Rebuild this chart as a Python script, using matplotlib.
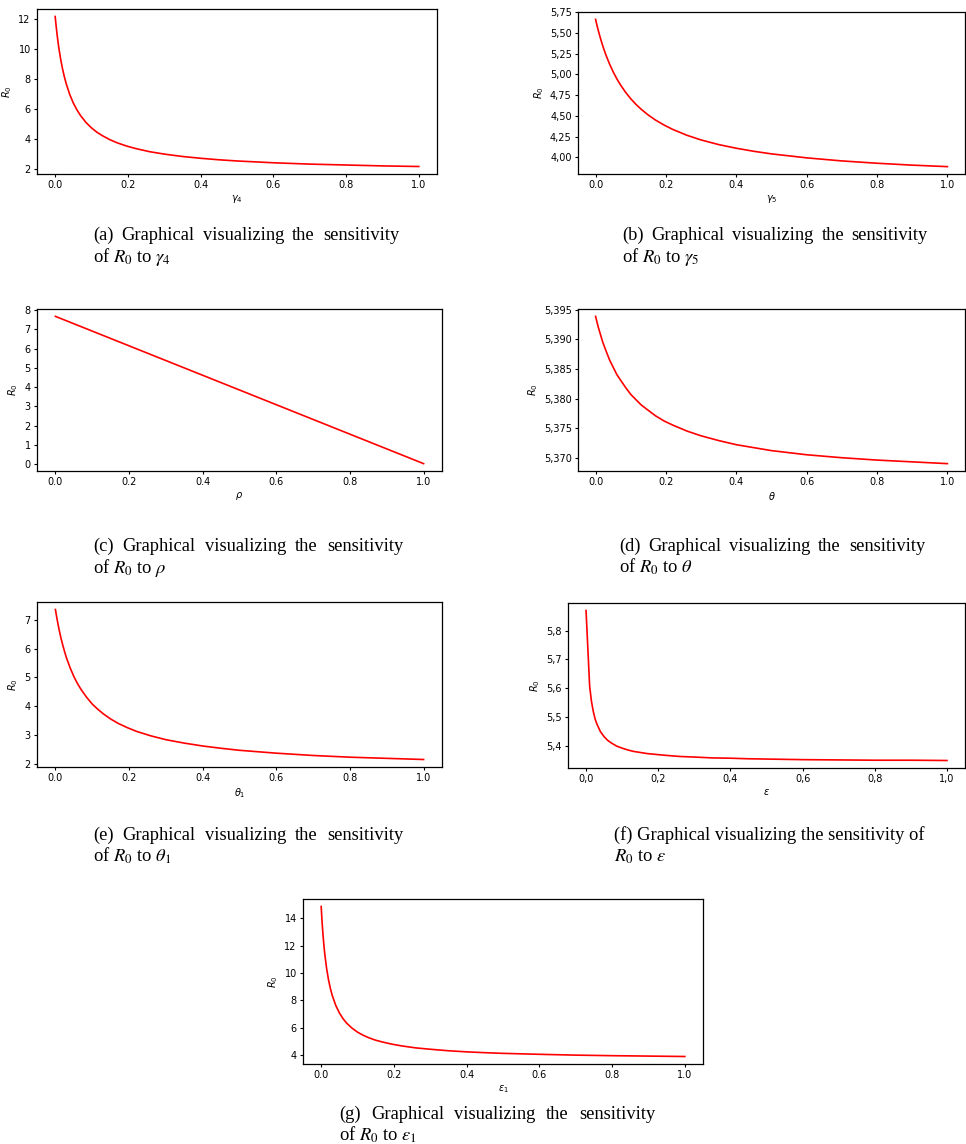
import numpy as np
import matplotlib
matplotlib.use("Agg")
import matplotlib.pyplot as plt
from matplotlib.ticker import FuncFormatter, MultipleLocator

# sampled parameter values (shared by most curved panels)
x_grid = [0.0, 0.0025, 0.005, 0.0075, 0.01, 0.015, 0.02, 0.025, 0.03, 0.04,
          0.05, 0.06, 0.07, 0.085, 0.1, 0.115, 0.13, 0.15, 0.17, 0.195, 0.22,
          0.26, 0.3, 0.35, 0.4, 0.45, 0.5, 0.6, 0.7, 0.8, 0.9, 1.0]

# R0
r0_gamma4 = [12.20, 11.59, 11.04, 10.55, 10.11, 9.35, 8.72, 8.19, 7.73, 6.98,
             6.40, 5.94, 5.56, 5.10, 4.74, 4.45, 4.22, 3.96, 3.75, 3.54, 3.37,
             3.15, 2.99, 2.83, 2.71, 2.61, 2.53, 2.41, 2.32, 2.26, 2.20, 2.16]
r0_gamma5 = [5.665, 5.619, 5.575, 5.534, 5.494, 5.419, 5.350, 5.287, 5.228,
             5.123, 5.031, 4.950, 4.879, 4.786, 4.706, 4.638, 4.578, 4.509,
             4.450, 4.388, 4.335, 4.265, 4.209, 4.153, 4.109, 4.072, 4.041,
             3.993, 3.956, 3.928, 3.905, 3.887]
x_rho = [0.0, 0.2, 0.4, 0.6, 0.8, 1.0]
r0_rho = [7.68, 6.15, 4.62, 3.09, 1.56, 0.03]
r0_theta = [5.3939, 5.3933, 5.3927, 5.3921, 5.3916, 5.3906, 5.3896, 5.3888,
            5.3880, 5.3865, 5.3853, 5.3841, 5.3832, 5.3819, 5.3807, 5.3798,
            5.3789, 5.3780, 5.3771, 5.3762, 5.3755, 5.3745, 5.3737, 5.3729,
            5.3722, 5.3717, 5.3712, 5.3705, 5.3700, 5.3696, 5.3693, 5.3690]
r0_theta1 = [7.36, 7.17, 6.99, 6.82, 6.66, 6.37, 6.12, 5.89, 5.68, 5.33,
             5.03, 4.78, 4.57, 4.30, 4.07, 3.89, 3.73, 3.55, 3.40, 3.25, 3.12,
             2.96, 2.83, 2.71, 2.61, 2.53, 2.46, 2.36, 2.28, 2.22, 2.18, 2.14]
# epsilon panel is coarser near zero (visible kink in the original)
x_eps = [0.0, 0.01, 0.015, 0.02, 0.025, 0.03, 0.04, 0.05, 0.06, 0.07, 0.085,
         0.1, 0.115, 0.13, 0.15, 0.17, 0.195, 0.22, 0.26, 0.3, 0.35, 0.4,
         0.45, 0.5, 0.6, 0.7, 0.8, 0.9, 1.0]
r0_eps = [5.870, 5.606, 5.554, 5.519, 5.493, 5.475, 5.448, 5.431, 5.418,
          5.409, 5.398, 5.391, 5.385, 5.380, 5.376, 5.372, 5.369, 5.366,
          5.362, 5.360, 5.357, 5.356, 5.354, 5.353, 5.351, 5.350, 5.349,
          5.349, 5.348]
r0_eps1 = [14.87, 13.73, 12.80, 12.02, 11.37, 10.33, 9.53, 8.91, 8.40, 7.64,
           7.09, 6.67, 6.34, 5.97, 5.68, 5.46, 5.28, 5.09, 4.95, 4.80, 4.68,
           4.53, 4.43, 4.32, 4.24, 4.18, 4.13, 4.06, 4.00, 3.96, 3.93, 3.90]

W, H = 966, 1144
fig = plt.figure(figsize=(W / 100, H / 100), dpi=100)
renderer = fig.canvas.get_renderer()

CAP_KW = dict(fontsize=13.3, family="Liberation Serif", math_fontfamily="stix",
              va="baseline", ha="left")


def px_axes(left, top, right, bottom):
    #  pixel box -> figure fraction
    return fig.add_axes([left / W, 1 - bottom / H, (right - left) / W,
                         (bottom - top) / H])


def comma_fmt(nd):
    return FuncFormatter(lambda v, p: ("%.*f" % (nd, v)).replace(".", ","))


def panel(box, xs, ys, xlab):
    ax = px_axes(*box)
    ax.plot(xs, ys, color="red", lw=1.2)
    ax.set_xlabel(xlab, fontsize=7, labelpad=2)
    ax.set_ylabel(r"$R_0$", fontsize=7, labelpad=3)
    ax.tick_params(labelsize=7, length=2.5, width=0.8, pad=2)
    for s in ax.spines.values():
        s.set_linewidth(0.9)
    ax.xaxis.set_major_locator(MultipleLocator(0.2))
    return ax


def justified(x0, x1, y, line):
    #  spread the words of a line over [x0, x1] like LaTeX does
    words = line.split(" ")
    ts = [fig.text(0, 1 - y / H, w, **CAP_KW) for w in words]
    widths = [t.get_window_extent(renderer).width for t in ts]
    gap = (x1 - x0 - sum(widths)) / (len(words) - 1)
    x = x0
    for t, w in zip(ts, widths):
        t.set_x(x / W)
        x += w + gap


def caption(x0, x1, y, line1, line2, justify=True):
    if justify:
        justified(x0, x1, y, line1)
    else:
        fig.text(x0 / W, 1 - y / H, line1, **CAP_KW)
    fig.text(x0 / W, 1 - (y + 22) / H, line2, **CAP_KW)


ax = panel((37, 9, 437, 174), x_grid, r0_gamma4, r"$\gamma_4$")
ax.yaxis.set_major_locator(MultipleLocator(2))
caption(93, 399, 240, "(a) Graphical visualizing the sensitivity",
        r"of $R_0$ to $\gamma_4$")

ax = panel((578, 12, 965, 174), x_grid, r0_gamma5, r"$\gamma_5$")
ax.yaxis.set_major_locator(MultipleLocator(0.25))
ax.yaxis.set_major_formatter(comma_fmt(2))
caption(622, 928, 240, "(b) Graphical visualizing the sensitivity",
        r"of $R_0$ to $\gamma_5$")

ax = panel((37, 309, 442, 471), x_rho, r0_rho, r"$\rho$")
ax.yaxis.set_major_locator(MultipleLocator(1))
caption(93, 403, 551, "(c) Graphical visualizing the sensitivity",
        r"of $R_0$ to $\rho$")

ax = panel((578, 309, 965, 471), x_grid, r0_theta, r"$\theta$")
ax.yaxis.set_major_locator(MultipleLocator(0.005))
ax.yaxis.set_major_formatter(comma_fmt(3))
caption(619, 925, 551, "(d) Graphical visualizing the sensitivity",
        r"of $R_0$ to $\theta$")

ax = panel((37, 602, 442, 767), x_grid, r0_theta1, r"$\theta_1$")
ax.yaxis.set_major_locator(MultipleLocator(1))
caption(93, 403, 840, "(e) Graphical visualizing the sensitivity",
        r"of $R_0$ to $\theta_1$")

ax = panel((568, 603, 965, 768), x_eps, r0_eps, r"$\varepsilon$")
ax.yaxis.set_major_locator(MultipleLocator(0.1))
ax.yaxis.set_major_formatter(comma_fmt(1))
ax.xaxis.set_major_formatter(comma_fmt(1))
caption(614, 925, 840, "(f) Graphical visualizing the sensitivity of",
        r"$R_0$ to $\epsilon$", justify=False)

ax = panel((303, 899, 703, 1064), x_grid, r0_eps1, r"$\varepsilon_1$")
ax.yaxis.set_major_locator(MultipleLocator(2))
caption(339, 655, 1119, "(g) Graphical visualizing the sensitivity",
        r"of $R_0$ to $\epsilon_1$")

fig.savefig("out.png", dpi=100)
